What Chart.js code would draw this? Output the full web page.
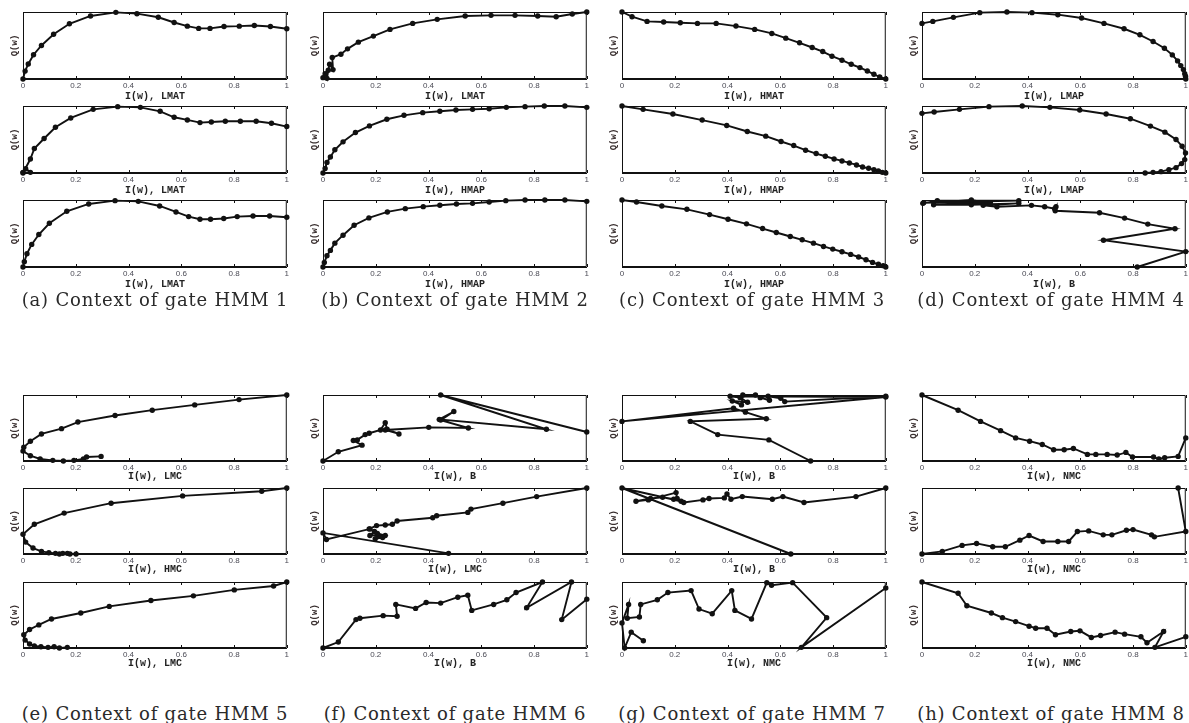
<!DOCTYPE html>
<html lang="en">
<head>
<meta charset="UTF-8">
<title>Context of gate HMMs</title>
<script src="https://cdn.jsdelivr.net/npm/chart.js"></script>
<style>
    body {
        margin: 0;
        background: #ffffff;
        width: 1189px;
        height: 723px;
        overflow: hidden;
        position: relative;
    }

    .panel {
        position: absolute;
    }

    .caption {
        position: absolute;
        width: 320px;
        height: 22px;
        line-height: 22px;
        text-align: center;
        font-family: 'DejaVu Serif', serif;
        font-size: 18px;
        letter-spacing: 0.8px;
        color: #2a2a2a;
        white-space: nowrap;
    }
</style>
</head>
<body>
<script>
    // tick values / labels shared by every panel
    const xTicks = [0, 0.2, 0.4, 0.6, 0.8, 1];
    const xTickLabels = ['0', '0.2', '0.4', '0.6', '0.8', '1'];

    const captions = [
        '(a) Context of gate HMM 1', '(b) Context of gate HMM 2',
        '(c) Context of gate HMM 3', '(d) Context of gate HMM 4',
        '(e) Context of gate HMM 5', '(f) Context of gate HMM 6',
        '(g) Context of gate HMM 7', '(h) Context of gate HMM 8'
    ];

    // context name on the I(w) axis, three panels per gate
    const hmm1Names = ['LMAT', 'LMAT', 'LMAT'];
    const hmm2Names = ['LMAT', 'HMAP', 'HMAP'];
    const hmm3Names = ['HMAT', 'HMAP', 'HMAP'];
    const hmm4Names = ['LMAP', 'LMAP', 'B'];
    const hmm5Names = ['LMC', 'HMC', 'LMC'];
    const hmm6Names = ['B', 'LMC', 'B'];
    const hmm7Names = ['B', 'B', 'NMC'];
    const hmm8Names = ['NMC', 'NMC', 'NMC'];

    // [I(w), Q(w)] pairs, Q(w) normalised to the panel
    const hmm1a = [[0, 0], [0.008, 0.118], [0.02, 0.225], [0.04, 0.363], [0.07, 0.5], [0.116, 0.667], [0.176, 0.824], [0.256, 0.941], [0.352, 0.995], [0.432, 0.975], [0.513, 0.922], [0.573, 0.843], [0.623, 0.789], [0.666, 0.755], [0.709, 0.755], [0.762, 0.784], [0.82, 0.789], [0.877, 0.799], [0.938, 0.784], [1, 0.75]];
    const hmm1b = [[0, 0.01], [0.01, 0.064], [0.028, 0.01], [0, 0], [0.028, 0.208], [0.043, 0.366], [0.08, 0.515], [0.123, 0.683], [0.181, 0.822], [0.266, 0.95], [0.359, 0.99], [0.445, 0.98], [0.52, 0.921], [0.573, 0.832], [0.623, 0.792], [0.671, 0.752], [0.714, 0.762], [0.767, 0.772], [0.824, 0.772], [0.884, 0.772], [0.942, 0.742], [1, 0.693]];
    const hmm1c = [[0, 0], [0.005, 0.079], [0.015, 0.198], [0.033, 0.337], [0.06, 0.485], [0.1, 0.653], [0.166, 0.832], [0.249, 0.941], [0.349, 0.99], [0.437, 0.98], [0.518, 0.911], [0.58, 0.822], [0.628, 0.752], [0.671, 0.713], [0.711, 0.713], [0.761, 0.723], [0.812, 0.752], [0.872, 0.762], [0.935, 0.762], [1, 0.743]];

    const hmm2a = [[0, 0.02], [0.008, 0.08], [0.015, 0.01], [0.02, 0.13], [0.025, 0.22], [0.038, 0.14], [0.035, 0.32], [0.068, 0.37], [0.093, 0.45], [0.134, 0.55], [0.191, 0.64], [0.254, 0.74], [0.34, 0.83], [0.433, 0.89], [0.539, 0.94], [0.637, 0.95], [0.728, 0.95], [0.814, 0.94], [0.884, 0.93], [0.945, 0.97], [1, 1]];
    const hmm2b = [[0, 0], [0.008, 0.069], [0.015, 0.158], [0.028, 0.238], [0.045, 0.347], [0.076, 0.465], [0.123, 0.604], [0.176, 0.703], [0.242, 0.802], [0.307, 0.861], [0.378, 0.901], [0.443, 0.921], [0.504, 0.941], [0.567, 0.95], [0.63, 0.96], [0.695, 0.98], [0.766, 0.99], [0.839, 1], [0.917, 1], [1, 0.98]];
    const hmm2c = [[0, 0], [0.005, 0.069], [0.015, 0.168], [0.028, 0.248], [0.045, 0.356], [0.076, 0.475], [0.118, 0.624], [0.174, 0.733], [0.244, 0.822], [0.312, 0.871], [0.38, 0.901], [0.443, 0.921], [0.506, 0.941], [0.567, 0.95], [0.63, 0.97], [0.693, 0.99], [0.766, 1], [0.841, 1], [0.917, 1], [1, 0.98]];

    const hmm3a = [[0, 1], [0.038, 0.93], [0.095, 0.86], [0.158, 0.85], [0.221, 0.84], [0.286, 0.83], [0.357, 0.83], [0.432, 0.79], [0.503, 0.74], [0.568, 0.68], [0.621, 0.61], [0.673, 0.54], [0.721, 0.47], [0.761, 0.41], [0.796, 0.34], [0.834, 0.28], [0.869, 0.22], [0.902, 0.17], [0.93, 0.12], [0.955, 0.07], [0.977, 0.03], [1, 0]];
    const hmm3b = [[0, 1], [0.08, 0.95], [0.193, 0.88], [0.304, 0.79], [0.397, 0.71], [0.475, 0.62], [0.545, 0.55], [0.603, 0.47], [0.651, 0.41], [0.696, 0.34], [0.736, 0.29], [0.771, 0.25], [0.804, 0.21], [0.834, 0.18], [0.862, 0.15], [0.889, 0.12], [0.912, 0.09], [0.935, 0.07], [0.955, 0.05], [0.972, 0.03], [0.987, 0.01], [1, 0]];
    const hmm3c = [[0, 1], [0.055, 0.97], [0.151, 0.911], [0.246, 0.861], [0.332, 0.782], [0.402, 0.713], [0.472, 0.644], [0.533, 0.574], [0.585, 0.515], [0.638, 0.455], [0.683, 0.406], [0.726, 0.356], [0.764, 0.307], [0.799, 0.267], [0.834, 0.228], [0.867, 0.188], [0.897, 0.149], [0.925, 0.109], [0.95, 0.069], [0.972, 0.04], [0.99, 0.02], [1, 0]];

    const hmm4a = [[0, 0.83], [0.041, 0.86], [0.119, 0.92], [0.219, 0.99], [0.322, 1], [0.417, 0.99], [0.515, 0.96], [0.605, 0.91], [0.69, 0.83], [0.766, 0.75], [0.826, 0.66], [0.876, 0.56], [0.919, 0.46], [0.949, 0.36], [0.969, 0.27], [0.981, 0.2], [0.991, 0.14], [0.996, 0.08], [0.999, 0.04], [1, 0]];
    const hmm4b = [[0, 0.89], [0.046, 0.91], [0.142, 0.95], [0.254, 0.99], [0.38, 1], [0.485, 0.98], [0.598, 0.94], [0.698, 0.88], [0.79, 0.81], [0.866, 0.7], [0.921, 0.61], [0.963, 0.5], [0.986, 0.4], [0.999, 0.3], [0.996, 0.2], [0.984, 0.14], [0.963, 0.08], [0.936, 0.05], [0.906, 0.02], [0.876, 0.01], [0.846, 0]];
    const hmm4c = [[0.003, 0.95], [0.058, 0.99], [0.367, 0.99], [0.006, 0.96], [0.187, 1], [0.259, 0.96], [0.044, 0.93], [0.187, 0.93], [0.367, 0.95], [0.232, 0.92], [0.284, 0.9], [0.415, 0.92], [0.465, 0.9], [0.503, 0.87], [0.508, 0.9], [0.505, 0.84], [0.673, 0.81], [0.768, 0.73], [0.856, 0.64], [0.959, 0.57], [0.688, 0.4], [1, 0.23], [0.816, 0]];

    const hmm5a = [[1, 1], [0.819, 0.93], [0.651, 0.85], [0.49, 0.77], [0.349, 0.69], [0.208, 0.59], [0.146, 0.49], [0.07, 0.41], [0.028, 0.3], [0.003, 0.21], [0, 0.15], [0.028, 0.08], [0.065, 0.03], [0.113, 0.01], [0.153, 0], [0.193, 0.01], [0.229, 0.03], [0.241, 0.06], [0.296, 0.07]];
    const hmm5b = [[1, 1], [0.905, 0.95], [0.605, 0.88], [0.334, 0.77], [0.156, 0.62], [0.043, 0.45], [0, 0.3], [0.01, 0.18], [0.038, 0.09], [0.07, 0.04], [0.098, 0.02], [0.123, 0.01], [0.138, 0], [0.151, 0.01], [0.168, 0.01], [0.178, 0], [0.201, 0]];
    const hmm5c = [[1, 1], [0.95, 0.94], [0.801, 0.88], [0.646, 0.79], [0.485, 0.72], [0.327, 0.63], [0.219, 0.53], [0.108, 0.44], [0.06, 0.35], [0.025, 0.28], [0.003, 0.2], [0.008, 0.12], [0.025, 0.06], [0.043, 0.03], [0.068, 0.02], [0.095, 0.01], [0.118, 0.02], [0.138, 0], [0.168, 0.01]];

    const hmm6a = [[0, 0], [0.058, 0.14], [0.148, 0.24], [0.115, 0.31], [0.13, 0.32], [0.16, 0.4], [0.175, 0.42], [0.218, 0.47], [0.236, 0.58], [0.243, 0.48], [0.288, 0.41], [0.236, 0.47], [0.401, 0.51], [0.551, 0.5], [0.446, 0.62], [0.496, 0.75], [0.441, 0.63], [0.847, 0.48], [0.446, 1], [1, 0.44]];
    const hmm6b = [[1, 1], [0.81, 0.87], [0.682, 0.77], [0.561, 0.68], [0.549, 0.63], [0.431, 0.58], [0.416, 0.55], [0.281, 0.5], [0.263, 0.45], [0.236, 0.44], [0.203, 0.43], [0.175, 0.38], [0.195, 0.34], [0.178, 0.28], [0.208, 0.29], [0.226, 0.25], [0.198, 0.23], [0.236, 0.28], [0.206, 0.31], [0.178, 0.38], [0.013, 0.22], [0, 0.32], [0.476, 0.01]];
    const hmm6c = [[0, 0], [0.058, 0.09], [0.125, 0.43], [0.14, 0.45], [0.228, 0.49], [0.281, 0.48], [0.276, 0.66], [0.351, 0.6], [0.391, 0.69], [0.446, 0.68], [0.511, 0.77], [0.549, 0.8], [0.564, 0.57], [0.647, 0.66], [0.697, 0.73], [0.732, 0.84], [0.832, 1], [0.772, 0.61], [0.942, 1], [0.905, 0.43], [1, 0.74]];

    const hmm7a = [[0.715, 0], [0.557, 0.32], [0.363, 0.4], [0.259, 0.6], [0.547, 0.64], [0.468, 0.74], [0.423, 0.8], [0, 0.6], [1, 0.97], [0.41, 0.98], [0.448, 0.96], [0.476, 0.89], [0.418, 0.91], [0.453, 0.85], [0.458, 1], [0.506, 1], [0.524, 0.96], [0.559, 0.92], [0.554, 0.98], [0.602, 0.95], [0.617, 0.9], [1, 0.98]];
    const hmm7b = [[0.64, 0], [0, 1], [0.224, 0.8], [0.196, 0.83], [0.154, 0.86], [0.108, 0.84], [0.053, 0.8], [0.1, 0.82], [0.205, 0.93], [0.209, 0.84], [0.234, 0.78], [0.307, 0.82], [0.33, 0.84], [0.388, 0.85], [0.398, 0.91], [0.413, 0.83], [0.456, 0.87], [0.57, 0.83], [0.61, 0.87], [0.69, 0.78], [0.887, 0.87], [1, 1]];
    const hmm7c = [[0.081, 0.11], [0.035, 0.24], [0.01, 0], [0, 0.38], [0.025, 0.66], [0.02, 0.45], [0.066, 0.47], [0.071, 0.66], [0.134, 0.73], [0.174, 0.84], [0.262, 0.87], [0.292, 0.59], [0.342, 0.52], [0.416, 0.87], [0.428, 0.57], [0.491, 0.44], [0.549, 0.99], [0.567, 0.95], [0.647, 0.99], [0.776, 0.46], [0.68, 0.01], [1, 0.91]];

    const hmm8a = [[0, 1], [0.137, 0.77], [0.222, 0.6], [0.298, 0.46], [0.355, 0.35], [0.408, 0.3], [0.456, 0.25], [0.499, 0.17], [0.539, 0.17], [0.574, 0.19], [0.627, 0.1], [0.659, 0.1], [0.702, 0.1], [0.74, 0.09], [0.773, 0.13], [0.798, 0.06], [0.878, 0.06], [0.898, 0.03], [0.92, 0.05], [0.971, 0.07], [1, 0.35]];
    const hmm8b = [[0, 0], [0.077, 0.04], [0.152, 0.13], [0.207, 0.16], [0.268, 0.11], [0.316, 0.11], [0.371, 0.21], [0.406, 0.28], [0.459, 0.19], [0.515, 0.19], [0.556, 0.19], [0.589, 0.34], [0.632, 0.35], [0.687, 0.29], [0.72, 0.29], [0.775, 0.36], [0.8, 0.37], [0.87, 0.29], [0.881, 0.26], [1, 0.34], [0.971, 1]];
    const hmm8c = [[0, 1], [0.137, 0.83], [0.17, 0.64], [0.263, 0.53], [0.305, 0.46], [0.355, 0.4], [0.406, 0.33], [0.431, 0.3], [0.474, 0.3], [0.506, 0.2], [0.564, 0.25], [0.599, 0.26], [0.642, 0.16], [0.677, 0.19], [0.732, 0.24], [0.768, 0.21], [0.83, 0.17], [0.853, 0.08], [0.916, 0.25], [0.883, 0.01], [1, 0.17]];

    const gateData = [
        [hmm1a, hmm1b, hmm1c], [hmm2a, hmm2b, hmm2c], [hmm3a, hmm3b, hmm3c], [hmm4a, hmm4b, hmm4c],
        [hmm5a, hmm5b, hmm5c], [hmm6a, hmm6b, hmm6c], [hmm7a, hmm7b, hmm7c], [hmm8a, hmm8b, hmm8c]
    ];
    const gateNames = [hmm1Names, hmm2Names, hmm3Names, hmm4Names, hmm5Names, hmm6Names, hmm7Names, hmm8Names];

    // layout (pixels)
    const colLeft = [23, 323, 622, 922];
    const colCenter = [155, 455, 752, 1051];
    const plotW = 265;
    const groups = [
        { rowTop: [11, 105, 199], plotH: 68, xh: 23, captionY: 299 },
        { rowTop: [394, 487, 581], plotH: 67, xh: 21, captionY: 713 }
    ];
    const YW = 22, PT = 3, PR = 3;

    // closed box + inward tick marks, matlab style
    const boxPlugin = {
        id: 'box',
        afterDatasetsDraw(chart) {
            const { ctx, chartArea: a, scales: { x } } = chart;
            ctx.save();
            ctx.strokeStyle = '#111';
            ctx.lineWidth = 1;
            ctx.beginPath();
            ctx.rect(a.left + 0.5, a.top + 0.5, a.width - 1, a.height - 1);
            x.ticks.forEach(t => {
                const px = Math.round(x.getPixelForValue(t.value)) + 0.5;
                ctx.moveTo(px, a.bottom);
                ctx.lineTo(px, a.bottom - 3);
                ctx.moveTo(px, a.top);
                ctx.lineTo(px, a.top + 3);
            });
            ctx.stroke();
            ctx.restore();
        }
    };

    function makePanel(left, top, plotH, xh, pts, name) {
        const div = document.createElement('div');
        div.className = 'panel';
        const w = plotW + YW + PR;
        const h = plotH + PT + xh;
        div.style.left = (left - YW) + 'px';
        div.style.top = (top - PT) + 'px';
        div.style.width = w + 'px';
        div.style.height = h + 'px';
        const cv = document.createElement('canvas');
        cv.width = w;
        cv.height = h;
        div.appendChild(cv);
        document.body.appendChild(div);

        new Chart(cv, {
            type: 'scatter',
            data: {
                datasets: [{
                    data: pts.map(p => ({ x: p[0], y: p[1] })),
                    showLine: true,
                    borderColor: '#111',
                    borderWidth: 1.9,
                    pointRadius: 2.7,
                    pointStyle: 'circle',
                    pointBackgroundColor: '#111',
                    pointBorderColor: '#111',
                    pointBorderWidth: 0,
                    clip: 5
                }]
            },
            options: {
                responsive: false,
                animation: false,
                events: [],
                layout: { padding: { top: PT, right: PR, left: 0, bottom: 0 } },
                plugins: { legend: { display: false }, tooltip: { enabled: false } },
                scales: {
                    x: {
                        type: 'linear', min: 0, max: 1,
                        afterBuildTicks: s => { s.ticks = xTicks.map(v => ({ value: v })); },
                        afterFit: s => { s.height = xh; },
                        ticks: {
                            callback: (v, i) => xTickLabels[i],
                            font: { family: 'Liberation Sans', size: 8 },
                            color: '#4a4a55', padding: 2, maxRotation: 0, autoSkip: false
                        },
                        grid: { drawOnChartArea: false, drawTicks: false },
                        border: { display: true, color: '#111', width: 1 },
                        title: {
                            display: true, text: 'I(w), ' + name,
                            font: { family: 'Liberation Mono', size: 10, weight: 'bold' },
                            color: '#222', padding: { top: 0, bottom: 0 }
                        }
                    },
                    y: {
                        min: 0, max: 1,
                        ticks: { display: false },
                        grid: { drawOnChartArea: false, drawTicks: false },
                        border: { display: true, color: '#111', width: 1 },
                        afterFit: s => { s.width = YW; },
                        title: {
                            display: true, text: 'Q(w)',
                            font: { family: 'Liberation Mono', size: 9, weight: 'bold' },
                            color: '#3a3030', padding: { top: 8, bottom: 0 }
                        }
                    }
                }
            },
            plugins: [boxPlugin]
        });
    }

    gateData.forEach((panels, g) => {
        const grp = groups[Math.floor(g / 4)];
        const col = g % 4;
        panels.forEach((pts, r) => {
            makePanel(colLeft[col], grp.rowTop[r], grp.plotH, grp.xh, pts, gateNames[g][r]);
        });
        const cap = document.createElement('div');
        cap.className = 'caption';
        cap.textContent = captions[g];
        cap.style.left = (colCenter[col] - 160) + 'px';
        cap.style.top = (grp.captionY - 10) + 'px';
        document.body.appendChild(cap);
    });
</script>
</body>
</html>
